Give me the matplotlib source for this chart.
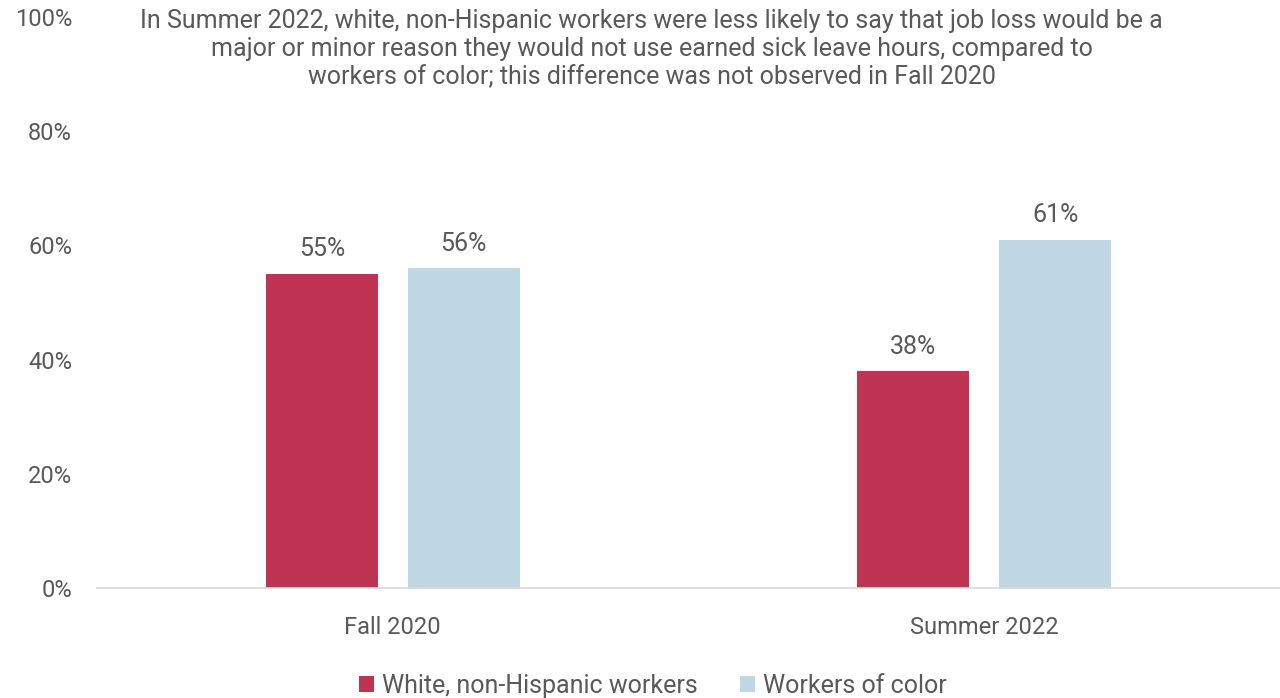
import matplotlib
matplotlib.use("Agg")
import matplotlib.pyplot as plt
import numpy as np

categories = ["Fall 2020", "Summer 2022"]
series_names = ["White, non-Hispanic workers", "Workers of color"]
white_values = [55, 38]
color_values = [56, 61]
y_ticks = [0, 20, 40, 60, 80, 100]
title = ("In Summer 2022, white, non-Hispanic workers were less likely to say that job loss would be a\n"
         "major or minor reason they would not use earned sick leave hours, compared to\n"
         "workers of color; this difference was not observed in Fall 2020")

plt.rcParams['font.family'] = ['Roboto', 'DejaVu Sans']
text_color = "#595959"
bar_colors = ["#BF3353", "#BFD7E2"]

fig = plt.figure(figsize=(12.8, 6.98), dpi=100)
ax = fig.add_axes([0.0758, 0.1576, 0.9242, 0.818])

x = np.arange(len(categories))
width = 0.19
offset = 0.12
for vals, off, col, name in [(white_values, -offset, bar_colors[0], series_names[0]),
                             (color_values, offset, bar_colors[1], series_names[1])]:
    bars = ax.bar(x + off, vals, width, color=col, label=name)
    for b, v in zip(bars, vals):
        ax.annotate(f"{v}%", (b.get_x() + b.get_width() / 2, v), xytext=(0, 9),
                    textcoords="offset points", ha="center", va="bottom",
                    fontsize=18, color=text_color)

ax.set_xlim(-0.5, 1.5)
ax.set_ylim(0, 100)
ax.set_yticks(y_ticks)
ax.set_yticklabels([f"{t}%" for t in y_ticks])
ax.set_xticks(x)
ax.set_xticklabels(categories)
ax.tick_params(axis="both", length=0, labelsize=17, colors=text_color)
ax.tick_params(axis="y", pad=18)
ax.tick_params(axis="x", pad=20)
for s in ["top", "right", "left"]:
    ax.spines[s].set_visible(False)
ax.spines["bottom"].set_color("#D9D9D9")
ax.spines["bottom"].set_linewidth(1.2)

fig.text(0.509, 0.987, title, ha="center", va="top", fontsize=18, color=text_color,
         linespacing=1.2)

leg = fig.legend(loc="lower center", bbox_to_anchor=(0.51, -0.032), ncol=2, frameon=False,
                 fontsize=18, handlelength=0.6, handleheight=0.6, handletextpad=0.3,
                 columnspacing=1.7)
for t in leg.get_texts():
    t.set_color(text_color)

fig.savefig("out.png", dpi=100)
